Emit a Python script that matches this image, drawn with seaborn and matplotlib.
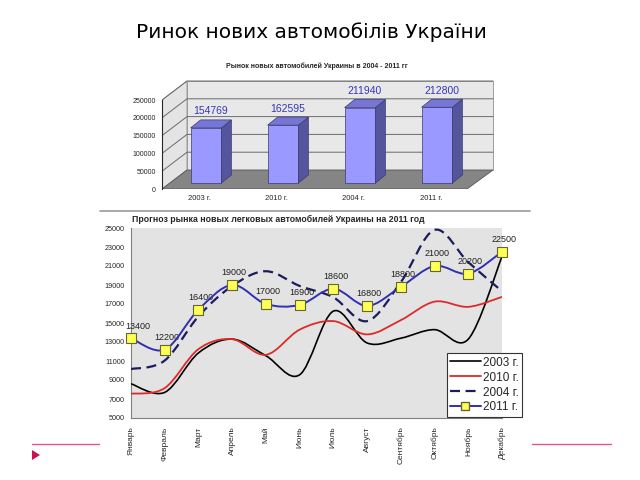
import numpy as np
import matplotlib
matplotlib.use('Agg')
import matplotlib.pyplot as plt
import seaborn as sns
from matplotlib.path import Path
from matplotlib.patches import PathPatch, Polygon
from matplotlib.lines import Line2D

sns.set_style('white')
plt.rcParams['font.family'] = ['Liberation Sans', 'DejaVu Sans']

# yearly totals (top chart)
bar_years = ['2003 г.', '2010 г.', '2004 г.', '2011 г.']
bar_sales = [154769, 162595, 211940, 212800]
bar_ticks = [0, 50000, 100000, 150000, 200000, 250000]

# monthly sales (bottom chart)
months = ['Январь', 'Февраль', 'Март', 'Апрель', 'Май', 'Июнь', 'Июль',
          'Август', 'Сентябрь', 'Октябрь', 'Ноябрь', 'Декабрь']
sales_2003 = [8600, 7700, 11850, 13300, 11550, 9550, 16250, 12900, 13400, 14300, 13300, 22000]
sales_2010 = [7550, 8150, 12250, 13300, 11650, 14300, 15200, 13800, 15300, 17250, 16700, 17750]
sales_2004 = [10150, 11050, 15700, 18900, 20450, 18900, 17700, 15200, 19300, 24800, 21400, 18350]
sales_2011 = [13400, 12200, 16400, 19000, 17000, 16900, 18600, 16800, 18800, 21000, 20200, 22500]
line_ticks = list(range(5000, 25001, 2000))

W, H = 640, 480


def box(l, t, r, b):
    return [l / W, 1 - b / H, (r - l) / W, (b - t) / H]


def smooth_path(xs, ys):
    # bezier curve through the points (excel-like smoothed line)
    pts = np.column_stack([xs, ys]).astype(float)
    n = len(pts)
    verts, codes = [pts[0]], [Path.MOVETO]
    for i in range(n - 1):
        p0, p1 = pts[max(i - 1, 0)], pts[i]
        p2, p3 = pts[i + 1], pts[min(i + 2, n - 1)]
        verts += [p1 + (p2 - p0) / 6, p2 - (p3 - p1) / 6, p2]
        codes += [Path.CURVE4] * 3
    return Path(verts, codes)


fig = plt.figure(figsize=(6.4, 4.8), dpi=100)

fig.text(311 / W, 1 - 32 / H, 'Ринок нових автомобілів України', ha='center', va='center',
         fontsize=14.5, color='black', family=['DejaVu Sans'])

# ---------- top: pseudo 3D bar chart ----------
k = 250000 / 89          # value units per pixel
off = 6 * k              # front floor edge below bar base
back = 13 * k            # back floor edge above bar base
ax1 = fig.add_axes(box(162, 78, 500, 189))
sns.barplot(x=bar_years, y=bar_sales, ax=ax1, color='#9999ff', width=0.4,
            edgecolor='#3a3a70', linewidth=0.5, saturation=1, zorder=3)
bars = list(ax1.patches)
x_front, x_back = (162 - 206) / 77, (187 - 206) / 77
x_front_r, x_back_r = (467 - 206) / 77, (493 - 206) / 77

ax1.add_patch(Polygon([[x_front, -off], [x_front, 250000 - off], [x_back, 250000 + back], [x_back, back]],
                      facecolor='#e4e4e4', edgecolor='#909090', lw=0.6, zorder=0))
ax1.add_patch(Polygon([[x_back, back], [x_back, 250000 + back], [x_back_r, 250000 + back], [x_back_r, back]],
                      facecolor='#e8e8e8', edgecolor='#909090', lw=0.6, zorder=0))
ax1.add_patch(Polygon([[x_front, -off], [x_front_r, -off], [x_back_r, back], [x_back, back]],
                      facecolor='#858585', edgecolor='#555555', lw=0.6, zorder=1))
for t in bar_ticks[1:]:
    ax1.plot([x_front, x_back, x_back_r], [t - off, t + back, t + back], color='#6a6a6a', lw=0.7, zorder=1)

ddx, ddy = 10 / 77, 8 * k
for p, v in zip(bars, bar_sales):
    x0, w, h = p.get_x(), p.get_width(), p.get_height()
    ax1.add_patch(Polygon([[x0 + w, 0], [x0 + w + ddx, ddy], [x0 + w + ddx, h + ddy], [x0 + w, h]],
                          facecolor='#55559e', edgecolor='#3a3a70', lw=0.5, zorder=3))
    ax1.add_patch(Polygon([[x0, h], [x0 + w, h], [x0 + w + ddx, h + ddy], [x0 + ddx, h + ddy]],
                          facecolor='#7676d6', edgecolor='#3a3a70', lw=0.5, zorder=3))
    ax1.annotate(str(v), (x0 + (w + ddx) / 2, h + ddy), xytext=(0, 2.5), textcoords='offset points',
                 ha='center', va='bottom', fontsize=7.5, color='#3535c0')
for i, lab in enumerate(bar_years):
    ax1.annotate(lab, (i - 0.08, -off), xytext=(0, -4), textcoords='offset points',
                 ha='center', va='top', fontsize=5.5)

ax1.set_xlim(x_front, (500 - 206) / 77)
ax1.set_ylim(-off, 105 * k)
ax1.set_xticks([])
ax1.set_yticks([t - off for t in bar_ticks])
ax1.set_yticklabels([str(t) for t in bar_ticks])
ax1.tick_params(axis='y', labelsize=5, length=3, width=0.8, pad=1.5, direction='out')
for s in ['top', 'right', 'bottom']:
    ax1.spines[s].set_visible(False)
ax1.spines['left'].set_bounds(-off, 250000 - off)
ax1.spines['left'].set_linewidth(0.8)
ax1.set_xlabel('')
ax1.patch.set_alpha(0)
fig.text(317 / W, 1 - 66 / H, 'Рынок новых автомобилей Украины в 2004 - 2011 гг', ha='center', va='center',
         fontsize=5, fontweight='bold')

# ---------- bottom: monthly forecast ----------
fig.add_artist(Line2D([100 / W, 530 / W], [1 - 211 / H] * 2, color='#999999', lw=1.2))
fig.text(132 / W, 1 - 219 / H, 'Прогноз рынка новых легковых автомобилей Украины на 2011 год',
         ha='left', va='center', fontsize=6.3, fontweight='bold')

ax2 = fig.add_axes(box(131, 228, 502, 418))
ax2.set_facecolor('#e3e3e3')
idx = np.arange(len(months))
ax2.add_patch(PathPatch(smooth_path(idx, sales_2003), fill=False, edgecolor='black', lw=1.2, zorder=3))
ax2.add_patch(PathPatch(smooth_path(idx, sales_2010), fill=False, edgecolor='#dd2a2a', lw=1.3, zorder=3))
ax2.add_patch(PathPatch(smooth_path(idx, sales_2004), fill=False, edgecolor='#1c1c5c', lw=1.6,
                        linestyle=(0, (4.5, 2.5)), zorder=3))
ax2.add_patch(PathPatch(smooth_path(idx, sales_2011), fill=False, edgecolor='#3030b0', lw=1.4, zorder=4))
sns.scatterplot(x=idx, y=sales_2011, ax=ax2, marker='s', s=42, color='#ffff55',
                edgecolor='#666633', linewidth=0.8, zorder=5, clip_on=False)
for i, v in zip(idx, sales_2011):
    dx = 5 if i == 0 else 1.5
    ax2.annotate(str(v), (i, v), xytext=(dx, 5.5), textcoords='offset points',
                 ha='center', va='bottom', fontsize=6.5, color='#222222')

ax2.set_xlim(0, 11)
ax2.set_ylim(5000, 25000)
ax2.set_xticks(idx)
ax2.set_xticklabels(months, rotation=90, fontsize=6)
ax2.set_yticks(line_ticks)
ax2.set_yticklabels([str(t) for t in line_ticks], fontsize=5.2)
ax2.tick_params(length=3, width=0.8, pad=1.5, color='#808080', direction='out')
ax2.tick_params(axis='x', pad=3)
for s in ['top', 'right']:
    ax2.spines[s].set_visible(False)
for s in ['left', 'bottom']:
    ax2.spines[s].set_color('#808080')
    ax2.spines[s].set_linewidth(0.8)

handles = [Line2D([], [], color='black', lw=1.2),
           Line2D([], [], color='#dd2a2a', lw=1.3),
           Line2D([], [], color='#1c1c5c', lw=1.6, linestyle=(0, (4.5, 2.5))),
           Line2D([], [], color='#3030b0', lw=1.4, marker='s', markersize=6,
                  markerfacecolor='#ffff55', markeredgecolor='#666633')]
leg = ax2.legend(handles, ['2003 г.', '2010 г.', '2004 г.', '2011 г.'], loc='lower right',
                 bbox_to_anchor=(522 / W, 1 - 417 / H), bbox_transform=fig.transFigure,
                 fontsize=8.5, frameon=True, fancybox=False, borderpad=0.3, labelspacing=0.25,
                 handlelength=2.6, handletextpad=0.15, borderaxespad=0)
leg.get_frame().set_edgecolor('#333333')
leg.get_frame().set_linewidth(0.8)
leg.get_frame().set_facecolor('white')
leg.get_frame().set_alpha(1)

# slide decorations
fig.add_artist(Line2D([32 / W, 99 / W], [1 - 444 / H] * 2, color='#e8557f', lw=1))
fig.add_artist(Line2D([532 / W, 611 / W], [1 - 444 / H] * 2, color='#e8557f', lw=1))
fig.add_artist(Polygon([[32 / W, 1 - 450 / H], [40 / W, 1 - 455 / H], [32 / W, 1 - 460 / H]],
                       closed=True, facecolor='#cc1155', edgecolor='none', transform=fig.transFigure))

fig.savefig('out.png', dpi=100)
